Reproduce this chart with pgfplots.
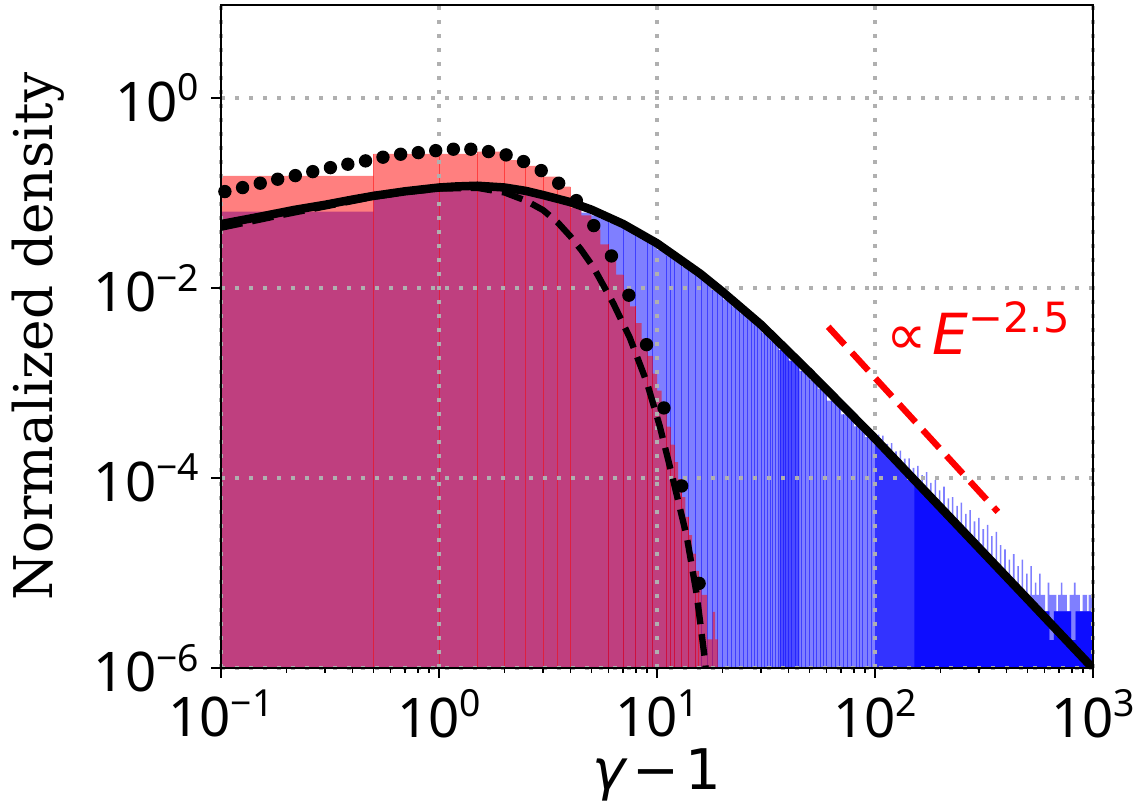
\documentclass[border=0pt]{standalone}
\usepackage{pgfplots}
\pgfplotsset{compat=1.18}
\usepackage{fontspec}
\setmainfont{DejaVu Serif}
\newfontfamily\tickfont{Noto Sans}
\newfontfamily\dvs{DejaVu Sans}
\definecolor{gridc}{RGB}{176,176,176}
\newcommand{\tl}[1]{10\raisebox{6.1pt}{\fontsize{11.2}{12}\selectfont #1}}
\begin{document}
\begin{tikzpicture}
\begin{axis}[
 name=ax, set layers,
 scale only axis, width=261.6pt, height=198.9pt,
 xmode=log, ymode=log, log origin y=infty,
 xmin=0.1, xmax=1000, ymin=1e-6, ymax=9.5,
 xtick={0.1,1,10,100,1000},
 xticklabels={\tl{−1},\tl{0},\tl{1},\tl{2},\tl{3}},
 minor xtick={0.2,0.3,0.4,0.5,0.6,0.7,0.8,0.9,2,3,4,5,6,7,8,9,20,30,40,50,60,70,80,90,200,300,400,500,600,700,800,900},
 ytick={1e-6,1e-4,1e-2,1},
 yticklabels={\tl{−6},\tl{−4},\tl{−2},\tl{0}},
 yminorticks=false,
 tick pos=left, tick align=outside,
 major tick length=3pt, minor tick length=1.5pt,
 major tick style={black, line width=0.6pt},
 minor tick style={black, line width=0.45pt},
 tick label style={font=\tickfont\fontsize{16.4}{18}\selectfont},
 grid=major,
 major grid style={gridc, line width=1.3pt, dash pattern=on 1.3pt off 2.9pt},
 axis line style={line width=0.75pt},
 xlabel={{\itshape γ}\hspace{0.12em}−\hspace{0.12em}1},
 ylabel={Normalized density},
 every axis x label/.style={at={(axis description cs:0.5,-0.184)}, anchor=base, font=\dvs\fontsize{16.8}{19}\selectfont},
 every axis y label/.style={at={(axis description cs:-0.1927,0.5)}, rotate=90, anchor=base, font=\fontsize{16}{19}\selectfont},
]
% blue histogram (light)
\addplot[const plot, draw=none, fill=blue, fill opacity=0.5, on layer=axis background] coordinates {
(0.1,0.0636) (0.5,0.105) (1.0,0.113) (1.5,0.113) (2.0,0.106) (2.5,0.096) (3.0,0.086) (3.5,0.077) (4.0,0.069) (4.5,0.062)
(5.0,0.058) (5.5,0.053) (6.0,0.0486) (6.5,0.0449) (7.0,0.0413) (7.5,0.0378) (8.0,0.0349) (8.5,0.0323) (9.0,0.0300) (9.5,0.0280)
(10,0.0251) (11,0.0217) (12,0.0190) (13,0.0167) (14,0.0149) (15,0.0134) (16,0.0120) (17,0.0107) (18,0.0097) (19,0.0088)
(20,0.0076) (22,0.0064) (24,0.0054) (26,0.0046) (28,0.0040) (30,0.00338) (33,0.00275) (36,0.00222) (40,0.00172) (45,0.00134)
(50,0.00107) (55,8.6e-4) (60,6.5e-4) (70,4.67e-4) (80,3.49e-4) (90,2.69e-4)
(100,2.60e-4) (103,2.86e-4) (104.7,2.326e-4) (107.8,2.79e-4) (109.6,2.081e-4) (112.9,2.29e-4) (114.8,1.862e-4) (118.2,2.33e-4)
(120.2,1.665e-4) (123.8,1.91e-4) (125.9,1.490e-4) (129.7,1.94e-4) (131.8,1.333e-4) (135.8,1.60e-4) (138.0,1.192e-4) (142.1,1.61e-4)
(144.5,1.067e-4) (148.8,1.28e-4) (151.4,9.54e-5) (155.9,1.34e-4) (158.5,8.54e-5) (163.3,1.07e-4) (166.0,7.64e-5) (171.0,1.15e-4)
(173.8,6.83e-5) (179.0,8.9e-5) (182.0,6.11e-5) (187.5,9.5e-5) (190.5,5.47e-5) (196.2,7.4e-5) (199.5,4.89e-5) (205.5,8.1e-5)
(208.9,4.38e-5) (215.2,6.1e-5) (218.8,3.92e-5) (225.4,6.3e-5) (229.1,3.50e-5) (236.0,5.1e-5) (239.9,3.13e-5) (247.1,5.5e-5)
(251.2,2.80e-5) (258.7,4.2e-5) (263.0,2.51e-5) (270.9,4.6e-5) (275.4,2.24e-5) (283.7,3.5e-5) (288.4,2.01e-5) (297.1,3.8e-5)
(302.0,1.80e-5) (311.1,2.9e-5) (316.2,1.61e-5) (325.7,3.2e-5) (331.1,1.44e-5) (341.0,2.45e-5) (346.7,1.29e-5) (357.1,2.7e-5)
(363.1,1.18e-5) (374.0,1.97e-5) (380.2,9.85e-6) (391.6,1.77e-5) (398.1,9.85e-6) (410.0,1.38e-5) (416.9,7.9e-6) (429.4,1.58e-5)
(436.5,7.9e-6) (449.6,1.18e-5) (457.1,5.9e-6) (470.8,1.38e-5) (478.6,5.9e-6) (493.0,9.85e-6) (501.2,5.9e-6) (516.2,1.18e-5)
(524.8,5.9e-6) (540.5,7.9e-6) (549.5,5.9e-6) (566,9.85e-6) (575.4,5.9e-6) (602.6,3.94e-6) (620,7.9e-6) (631.0,5.9e-6)
(660.7,5.9e-6) (680,3.94e-6) (691.8,5.9e-6) (712,7.9e-6) (724.4,5.9e-6) (758.6,3.94e-6) (781,5.9e-6) (794.3,5.9e-6)
(818,7.9e-6) (831.8,5.9e-6) (871.0,3.94e-6) (897,5.9e-6) (912.0,5.9e-6) (940,3.94e-6) (955.0,5.9e-6) (1000,5.9e-6)
} \closedcycle;
% medium band
\addplot[const plot, draw=none, fill=blue, fill opacity=0.4, on layer=axis background] coordinates {
(36.5,0.00222) (40,0.00172) (45,0.00172)
} \closedcycle;
% dense region overlays
\addplot[const plot, draw=none, fill=blue, fill opacity=0.6, on layer=axis background] coordinates {
(100,2.60e-4) (104.7,2.326e-4) (109.6,2.081e-4) (114.8,1.862e-4) (120.2,1.665e-4) (125.9,1.490e-4) (131.8,1.333e-4) (138.0,1.192e-4)
(144.5,1.067e-4) (151.4,9.54e-5) (158.5,8.54e-5) (166.0,7.64e-5) (173.8,6.83e-5) (182.0,6.11e-5) (190.5,5.47e-5) (199.5,4.89e-5)
(208.9,4.38e-5) (218.8,3.92e-5) (229.1,3.50e-5) (239.9,3.13e-5) (251.2,2.80e-5) (263.0,2.51e-5) (275.4,2.24e-5) (288.4,2.01e-5)
(302.0,1.80e-5) (316.2,1.61e-5) (331.1,1.44e-5) (346.7,1.29e-5) (363.1,1.15e-5) (380.2,9.85e-6) (398.1,9.21e-6) (416.9,7.9e-6)
(436.5,7.37e-6) (457.1,5.9e-6) (478.6,5.90e-6) (501.2,5.28e-6) (524.8,4.72e-6) (549.5,3.94e-6) (575.4,3.94e-6) (602.6,3.94e-6)
(631.0,1.97e-6) (660.7,3.94e-6) (691.8,3.94e-6) (724.4,3.94e-6) (758.6,3.94e-6) (794.3,1.97e-6) (831.8,3.94e-6) (871.0,3.94e-6)
(912.0,3.94e-6) (955.0,3.94e-6) (1000,3.94e-6)
} \closedcycle;
\addplot[const plot, draw=none, fill=blue, fill opacity=0.75, on layer=axis background] coordinates {
(151.4,9.54e-5) (158.5,8.54e-5) (166.0,7.64e-5) (173.8,6.83e-5) (182.0,6.11e-5) (190.5,5.47e-5) (199.5,4.89e-5)
(208.9,4.38e-5) (218.8,3.92e-5) (229.1,3.50e-5) (239.9,3.13e-5) (251.2,2.80e-5) (263.0,2.51e-5) (275.4,2.24e-5) (288.4,2.01e-5)
(302.0,1.80e-5) (316.2,1.61e-5) (331.1,1.44e-5) (346.7,1.29e-5) (363.1,1.15e-5) (380.2,9.85e-6) (398.1,9.21e-6) (416.9,7.9e-6)
(436.5,7.37e-6) (457.1,5.9e-6) (478.6,5.90e-6) (501.2,5.28e-6) (524.8,4.72e-6) (549.5,3.94e-6) (575.4,3.94e-6) (602.6,3.94e-6)
(631.0,1.97e-6) (660.7,3.94e-6) (691.8,3.94e-6) (724.4,3.94e-6) (758.6,3.94e-6) (794.3,1.97e-6) (831.8,3.94e-6) (871.0,3.94e-6)
(912.0,3.94e-6) (955.0,3.94e-6) (1000,3.94e-6)
} \closedcycle;
% blue bin edges
\addplot[ycomb, draw=blue, draw opacity=0.5, line width=0.3pt, on layer=axis background] coordinates {
(6,0.053) (7,0.0449) (8,0.0378) (9,0.0323) (9.5,0.0300) (11,0.0251) (11.5,0.0217) (12,0.0217) (13,0.0190) (14,0.0167) (15,0.0149)
(16,0.0134) (17,0.0120) (18,0.0107) (19,0.0097) (20,0.0088) (21,0.0076) (22,0.0076) (23,0.0064) (24,0.0064) (25,0.0054)
(26,0.0054) (27,0.0046) (28,0.0046) (29,0.0040) (30,0.0040) (31,0.00338) (32,0.00338) (33,0.00338) (34,0.00275) (35,0.00275)
(36,0.00275) (37,0.00222) (38,0.00222) (39,0.00222) (40,0.00222) (41.5,0.00172) (43,0.00172) (44.5,0.00172) (46,0.00134)
(48,0.00134) (50,0.00134) (52,0.00107) (54,0.00107) (56,8.6e-4) (58,8.6e-4) (60,8.6e-4) (63,6.5e-4) (66,6.5e-4) (69,6.5e-4)
(72,4.67e-4) (75,4.67e-4) (78,4.67e-4) (82,3.49e-4) (85,3.49e-4) (88,3.49e-4) (92,2.69e-4) (96,2.69e-4)
};
% red histogram
\addplot[const plot, draw=none, fill=red, fill opacity=0.5, on layer=axis background] coordinates {
(0.1,0.151) (0.5,0.2575) (1.0,0.2575) (1.5,0.272) (2.0,0.222) (2.5,0.192) (3.0,0.1485) (3.5,0.1166) (4.0,0.084) (4.5,0.058)
(5.0,0.0412) (5.5,0.0288) (6.0,0.0205) (6.5,0.0138) (7.0,0.00957) (7.5,0.00638) (8.0,0.00426) (8.5,0.00292) (9.0,0.00193) (9.5,0.00125)
(10.0,8.28e-4) (10.5,5.47e-4) (11.0,3.48e-4) (11.5,2.24e-4) (12.0,1.47e-4) (12.5,9.7e-5) (13.0,6.3e-5) (13.5,3.9e-5) (14.0,2.5e-5) (14.5,1.6e-5)
(15.0,1.05e-5) (15.5,7.9e-6) (16.0,5.9e-6) (16.5,5.9e-6) (17.0,2.0e-6) (17.5,2.0e-6) (18.0,3.9e-6) (18.5,2.0e-6) (19.0,2.0e-6)
} \closedcycle;
% red bin edges
\addplot[ycomb, draw=red, draw opacity=0.5, line width=0.3pt, on layer=axis background] coordinates {
(0.5,0.2575) (1.0,0.2575) (1.5,0.272) (2.0,0.272) (2.5,0.222) (3.0,0.192) (3.5,0.1485) (4.0,0.1166) (6.0,0.0288) (7.0,0.0138)
(8.0,0.00638) (9.0,0.00292) (9.5,0.00193) (11,5.47e-4) (11.5,3.48e-4) (12,2.24e-4) (13,9.7e-5) (14,3.9e-5) (15,1.6e-5) (15.5,1.05e-5)
};
% solid line
\addplot[black, line width=2.55pt] coordinates {
(0.1,0.047) (0.15,0.056) (0.215,0.066) (0.3,0.075) (0.4,0.085) (0.5,0.093) (0.7,0.104) (1.0,0.114) (1.2,0.117) (1.5,0.119)
(2.0,0.114) (2.5,0.105) (3.0,0.095) (4.0,0.080) (5.0,0.0667) (6.0,0.0552) (7.0,0.047) (8.5,0.0365) (10,0.0295) (12.5,0.0206)
(15.8,0.0141) (20,0.0091) (25,0.00587) (30,0.0041) (40,0.00215) (50,0.0013) (70,5.96e-4) (100,2.6e-4) (200,4.88e-5) (500,5.33e-6) (1000,9.9e-7)
};
% dashed line
\addplot[black, line width=1.9pt, dash pattern=on 6.5pt off 3pt] coordinates {
(0.1,0.043) (0.2,0.060) (0.3,0.072) (0.5,0.091) (0.7,0.102) (1.0,0.111) (1.5,0.113) (2.0,0.101) (2.5,0.083) (3.0,0.066)
(3.5,0.049) (4.0,0.035) (4.5,0.025) (5.1,0.0166) (6.3,0.0069) (7.5,0.0030) (9.0,1.0e-3) (10.3,3.5e-4) (11.8,1.0e-4)
(13.7,2.4e-5) (15.2,6.0e-6) (16.6,1.2e-6) (17.2,5e-7)
};
% dots
\addplot[only marks, mark=*, mark size=1.8pt, black] coordinates {
(0.1042,0.1033) (0.1256,0.1138) (0.1514,0.1265) (0.1820,0.1393) (0.2193,0.1521) (0.2636,0.1675) (0.3177,0.1845)
(0.3819,0.2004) (0.4603,0.2173) (0.5534,0.2377) (0.6668,0.2553) (0.8035,0.2655) (0.9660,0.2786) (1.164,0.2884)
(1.400,0.2884) (1.687,0.2723) (2.032,0.2512) (2.443,0.2138) (2.944,0.1718) (3.540,0.1265) (4.266,0.0830)
(5.129,0.0453) (6.180,0.0217) (7.430,0.00838) (8.954,0.00253) (10.76,5.46e-4) (12.97,8.24e-5) (15.60,7.78e-6)
};
% power-law guide
\addplot[red, line width=1.9pt, dash pattern=on 7.3pt off 3.2pt] coordinates {(61,3.9e-3) (366,4.4e-5)};
\node[anchor=base west, inner sep=0pt, text=red, font=\dvs\fontsize{17}{20}\selectfont] at (axis cs:112,1.97e-3)
 {∝\hspace{0.1em}{\itshape E}\raisebox{6.8pt}{\fontsize{12.5}{14}\selectfont −2.5}};
\end{axis}
\pgfresetboundingbox
\path[use as bounding box] ([xshift=-66.3pt,yshift=-40.5pt]ax.south west) rectangle ([xshift=14.4pt,yshift=1.5pt]ax.north east);
\end{tikzpicture}
\end{document}
